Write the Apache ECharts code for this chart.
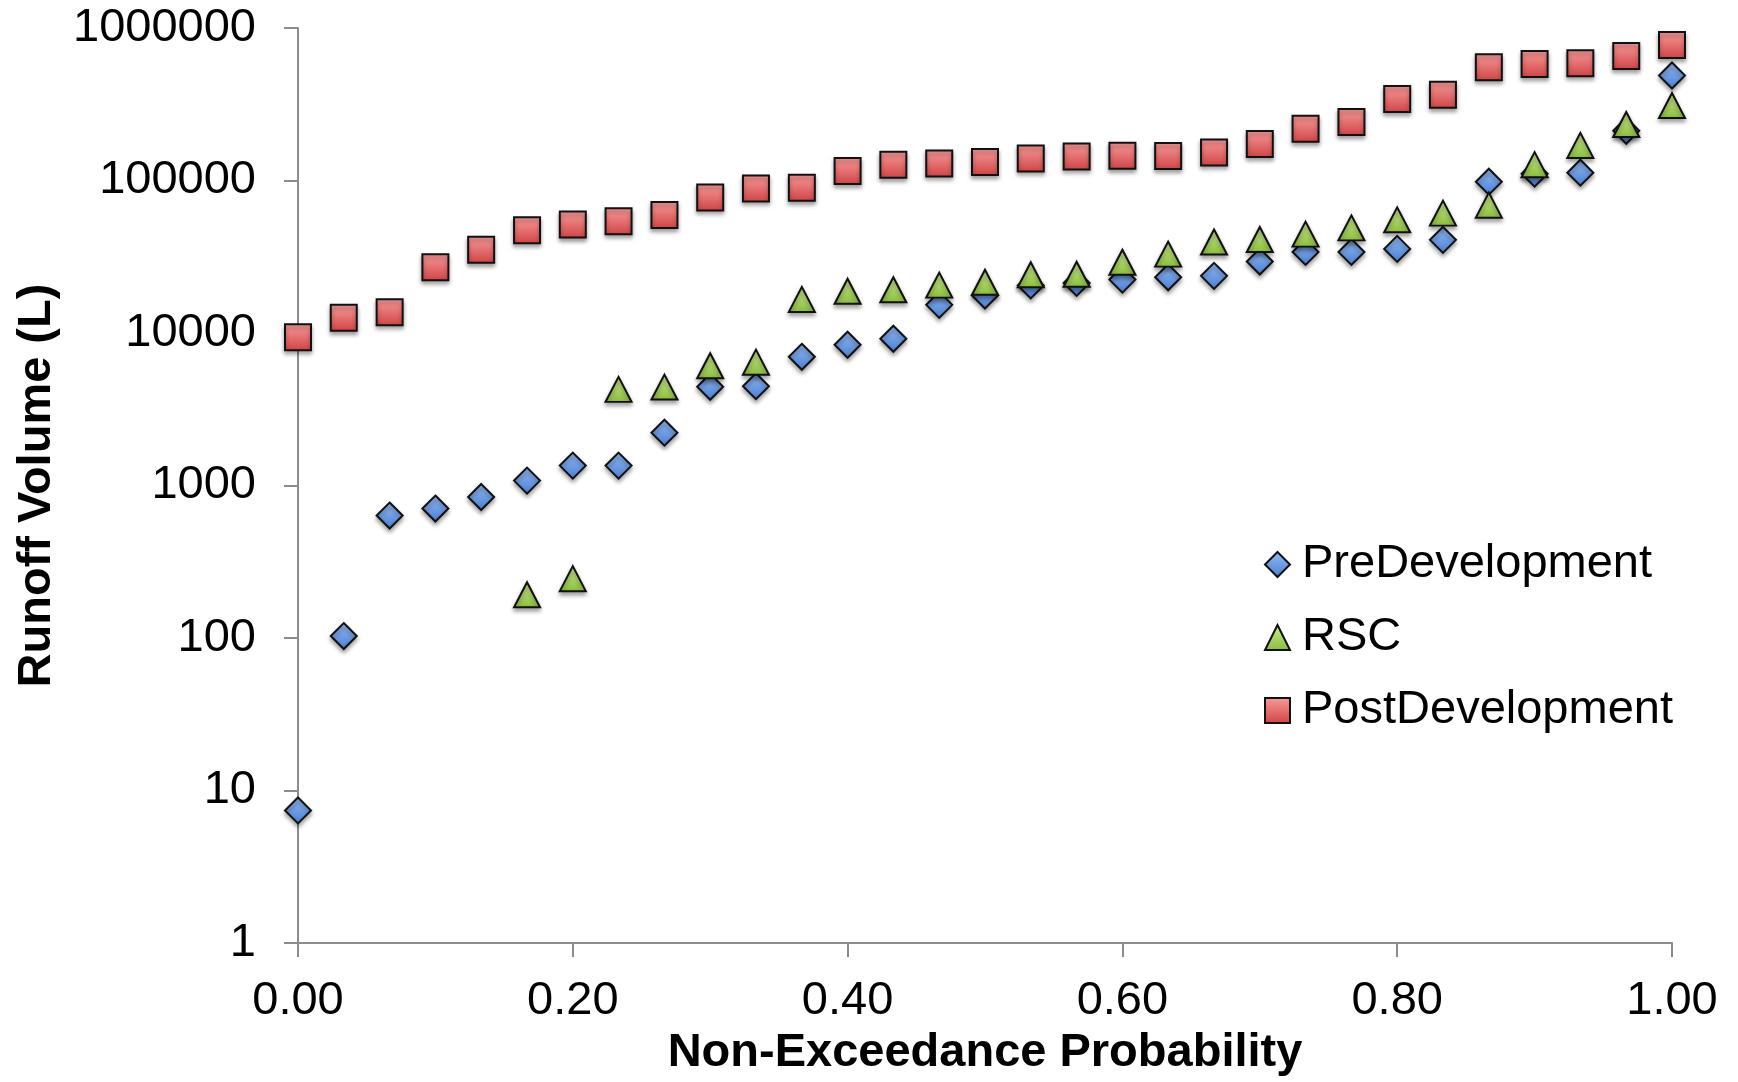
<!DOCTYPE html>
<html>
<head>
<meta charset="utf-8">
<script src="https://cdn.jsdelivr.net/npm/echarts@6/dist/echarts.min.js"></script>
<style>
html,body{margin:0;padding:0;background:#fff;}
#chart{width:1738px;height:1082px;}
</style>
</head>
<body>
<div id="chart"></div>
<script>
// Non-exceedance probability (plotting positions)
const probability = [0.0000, 0.0333, 0.0667, 0.1000, 0.1333, 0.1667, 0.2000, 0.2333, 0.2667, 0.3000,
  0.3333, 0.3667, 0.4000, 0.4333, 0.4667, 0.5000, 0.5333, 0.5667, 0.6000, 0.6333,
  0.6667, 0.7000, 0.7333, 0.7667, 0.8000, 0.8333, 0.8667, 0.9000, 0.9333, 0.9667, 1.0000];

const preDevelopment = [7.4, 103, 635, 706, 841, 1077, 1350, 1350, 2220, 4440,
  4480, 6980, 8370, 9170, 15300, 17600, 20500, 21300, 22400, 23200,
  23700, 29400, 34000, 34000, 35600, 40800, 98200, 110900, 112500, 212000, 488000];

const rsc = [null, null, null, null, null, 192, 245, 4270, 4420, 6100,
  6440, 16600, 18800, 19200, 20600, 21500, 24100, 24300, 29100, 32900,
  39500, 41000, 44500, 48900, 55200, 61100, 68900, 127000, 169800, 232900, 310400];

const postDevelopment = [9380, 12570, 13680, 27000, 35200, 47100, 51400, 54000, 59400, 77500,
  88700, 89800, 115400, 127000, 129500, 132100, 139500, 143900, 145200, 144700,
  152900, 173400, 218400, 241500, 342000, 364500, 553000, 581000, 587700, 656000, 774800];

const seriesNames = ['PreDevelopment', 'RSC', 'PostDevelopment'];

function pairs(ys) {
  return probability.map((p, i) => [p, ys[i] == null ? '-' : ys[i]]);
}
function grad(top, bottom) {
  return {type: 'linear', x: 0, y: 0, x2: 0, y2: 1,
    colorStops: [{offset: 0, color: top}, {offset: 1, color: bottom}]};
}
const FONT = '"Liberation Sans", Arial, Helvetica, sans-serif';
const baseStyle = {
  borderColor: '#111', borderWidth: 2,
  shadowColor: 'rgba(0,0,0,0.35)', shadowBlur: 4, shadowOffsetY: 3, opacity: 1
};

const chart = echarts.init(document.getElementById('chart'), null, {renderer: 'canvas'});
chart.setOption({
  backgroundColor: '#fff',
  animation: false,
  textStyle: {fontFamily: FONT},
  grid: {left: 298, right: 66, top: 28, bottom: 138, containLabel: false},
  legend: {
    orient: 'vertical', left: 1259, top: 536,
    itemWidth: 25, itemHeight: 25, itemGap: 26,
    data: seriesNames,
    textStyle: {fontSize: 47, color: '#000', fontFamily: FONT, lineHeight: 47, padding: [0, 0, 0, 7]}
  },
  xAxis: {
    type: 'value', min: 0, max: 1, interval: 0.2,
    name: 'Non-Exceedance Probability', nameLocation: 'middle', nameGap: 87,
    nameTextStyle: {fontSize: 47, fontWeight: 'bold', color: '#000', fontFamily: FONT},
    axisLine: {show: true, onZero: false, lineStyle: {color: '#8c8c8c', width: 2}},
    axisTick: {show: true, length: 14, inside: false, lineStyle: {color: '#8c8c8c', width: 2}},
    axisLabel: {fontSize: 47, color: '#000', margin: 35, fontFamily: FONT,
      formatter: v => v.toFixed(2)},
    splitLine: {show: false}
  },
  yAxis: {
    type: 'log', logBase: 10, min: 1, max: 1000000,
    name: 'Runoff Volume (L)', nameLocation: 'middle', nameGap: 237, nameRotate: 90,
    nameTextStyle: {fontSize: 47, fontWeight: 'bold', color: '#000', fontFamily: FONT},
    axisLine: {show: true, lineStyle: {color: '#8c8c8c', width: 2}},
    axisTick: {show: true, length: 14, inside: false, lineStyle: {color: '#8c8c8c', width: 2}},
    axisLabel: {fontSize: 47, color: '#000', margin: 42, fontFamily: FONT,
      formatter: v => String(Math.round(v))},
    splitLine: {show: false}
  },
  series: [
    {
      name: seriesNames[0], type: 'scatter', symbol: 'diamond', symbolSize: 26,
      data: pairs(preDevelopment),
      itemStyle: Object.assign({color: grad('#95bbf2', '#4a7ed5')}, baseStyle),
      z: 2
    },
    {
      name: seriesNames[1], type: 'scatter', symbol: 'triangle', symbolSize: [26, 25],
      data: pairs(rsc),
      itemStyle: Object.assign({color: grad('#cdeb92', '#89bd3c')}, baseStyle),
      z: 3
    },
    {
      name: seriesNames[2], type: 'scatter', symbol: 'rect', symbolSize: 26,
      data: pairs(postDevelopment),
      itemStyle: Object.assign({color: grad('#fa9c9c', '#cf4343')}, baseStyle),
      z: 4
    }
  ]
});
</script>
</body>
</html>
